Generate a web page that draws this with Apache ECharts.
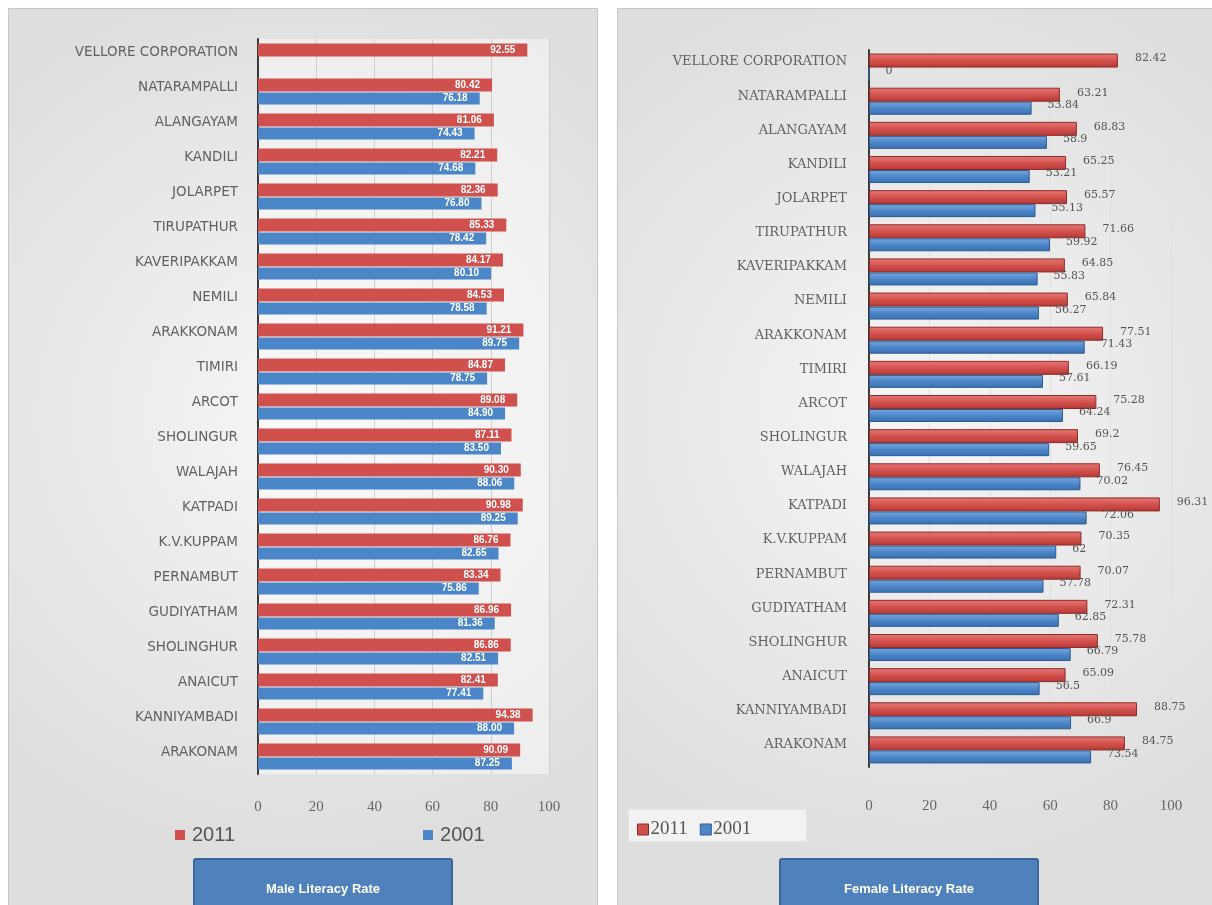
<!DOCTYPE html>
<html>
<head>
<meta charset="utf-8">
<script src="https://cdn.jsdelivr.net/npm/echarts@6/dist/echarts.min.js"></script>
<style>
  html, body { margin: 0; padding: 0; background: #ffffff; }
  #chart { width: 1212px; height: 905px; }
</style>
</head>
<body>
<div id="chart"></div>
<script>
// Blocks of Vellore district, top to bottom
const categories = [
  'VELLORE CORPORATION', 'NATARAMPALLI', 'ALANGAYAM', 'KANDILI', 'JOLARPET',
  'TIRUPATHUR', 'KAVERIPAKKAM', 'NEMILI', 'ARAKKONAM', 'TIMIRI', 'ARCOT',
  'SHOLINGUR', 'WALAJAH', 'KATPADI', 'K.V.KUPPAM', 'PERNAMBUT', 'GUDIYATHAM',
  'SHOLINGHUR', 'ANAICUT', 'KANNIYAMBADI', 'ARAKONAM'
];

// Male literacy rate (%)
const male2011 = [92.55, 80.42, 81.06, 82.21, 82.36, 85.33, 84.17, 84.53, 91.21, 84.87, 89.08,
                  87.11, 90.3, 90.98, 86.76, 83.34, 86.96, 86.86, 82.41, 94.38, 90.09];
const male2001 = ['-', 76.18, 74.43, 74.68, 76.8, 78.42, 80.1, 78.58, 89.75, 78.75, 84.9,
                  83.5, 88.06, 89.25, 82.65, 75.86, 81.36, 82.51, 77.41, 88.0, 87.25];

// Female literacy rate (%)
const female2011 = [82.42, 63.21, 68.83, 65.25, 65.57, 71.66, 64.85, 65.84, 77.51, 66.19, 75.28,
                    69.2, 76.45, 96.31, 70.35, 70.07, 72.31, 75.78, 65.09, 88.75, 84.75];
const female2001 = [0, 53.84, 58.9, 53.21, 55.13, 59.92, 55.83, 56.27, 71.43, 57.61, 64.24,
                    59.65, 70.02, 72.06, 62, 57.78, 62.85, 66.79, 56.5, 66.9, 73.54];

const xTicks = [0, 20, 40, 60, 80, 100];
const seriesNames = ['2011', '2001'];
const chartTitles = ['Male Literacy Rate', 'Female Literacy Rate'];

const RED = '#d0504d';
const BLUE = '#4a86c8';

function vGrad(top, mid, bottom) {
  return new echarts.graphic.LinearGradient(0, 0, 0, 1, [
    { offset: 0, color: top }, { offset: 0.5, color: mid }, { offset: 1, color: bottom }
  ]);
}

const chart = echarts.init(document.getElementById('chart'), null, { renderer: 'canvas' });

const panelFill = new echarts.graphic.RadialGradient(0.5, 0.45, 0.75, [
  { offset: 0, color: '#f6f6f6' }, { offset: 1, color: '#dedede' }
]);

function titleBox(x, text) {
  return {
    type: 'group', left: x, top: 858, z: 5,
    children: [
      { type: 'rect', shape: { x: 0, y: 0, width: 258, height: 60, r: 2 },
        style: { fill: '#4f81bd', stroke: '#3b6699', lineWidth: 2 } },
      { type: 'text', style: { x: 129, y: 30, text: text, fill: '#ffffff',
        font: 'bold 13px "Liberation Sans", Arial, sans-serif', textAlign: 'center', textVerticalAlign: 'middle' } }
    ]
  };
}

const catLabelBase = { color: '#616161', interval: 0, verticalAlign: 'bottom' };

const option = {
  animation: false,
  graphic: [
    { type: 'rect', left: 8, top: 8, z: -10, shape: { width: 589, height: 910 },
      style: { fill: panelFill, stroke: '#c6c6c6', lineWidth: 1 } },
    { type: 'rect', left: 617, top: 8, z: -10, shape: { width: 600, height: 910 },
      style: { fill: panelFill, stroke: '#c6c6c6', lineWidth: 1 } },
    { type: 'rect', left: 628, top: 809, z: -5, shape: { width: 178, height: 32 },
      style: { fill: '#f2f2f2', stroke: '#e4e4e4' } },
    titleBox(193, chartTitles[0]),
    titleBox(779, chartTitles[1])
  ],
  legend: [
    { left: 170, top: 820, itemGap: 188, itemWidth: 10, itemHeight: 10, icon: 'rect',
      data: seriesNames.map((n, i) => ({ name: n, itemStyle: { color: i === 0 ? RED : BLUE, borderWidth: 0 } })),
      textStyle: { fontSize: 20, color: '#555', fontFamily: '"Liberation Sans", Arial, sans-serif', padding: [0, 0, 0, 2] } },
    { left: 632, top: 815, itemGap: 12, itemWidth: 11, itemHeight: 11, icon: 'rect',
      data: seriesNames.map((n, i) => ({ name: n, itemStyle: { color: i === 0 ? RED : BLUE, borderColor: i === 0 ? '#8e2b29' : '#2c5a92', borderWidth: 1 } })),
      textStyle: { fontSize: 19, color: '#555', fontFamily: '"Liberation Serif", serif', padding: [0, 0, 0, -3] } }
  ],
  grid: [
    { left: 258, right: 663, top: 39, bottom: 905 - 774, show: true, backgroundColor: 'rgba(250,250,250,0.55)', borderWidth: 0 },
    { left: 869, right: 41, top: 50, bottom: 905 - 767, show: false }
  ],
  xAxis: [
    { gridIndex: 0, type: 'value', min: 0, max: 100, interval: 20,
      axisLine: { show: false }, axisTick: { show: false },
      splitLine: { lineStyle: { color: '#cfcfcf' } },
      axisLabel: { margin: 26, fontSize: 15, color: '#666', fontFamily: '"Liberation Serif", serif',
        formatter: v => (xTicks.includes(v) ? String(v) : '') } },
    { gridIndex: 1, type: 'value', min: 0, max: 100, interval: 20,
      axisLine: { show: false }, axisTick: { show: false },
      splitLine: { lineStyle: { color: '#e0e0e0' } },
      axisLabel: { margin: 32, fontSize: 15, color: '#666', fontFamily: '"Liberation Serif", serif',
        formatter: v => (xTicks.includes(v) ? String(v) : '') } }
  ],
  yAxis: [
    { gridIndex: 0, type: 'category', data: categories, inverse: true,
      axisLine: { lineStyle: { color: '#3a3a3a', width: 2 } }, axisTick: { show: false },
      axisLabel: Object.assign({}, catLabelBase, { margin: 20, fontSize: 13.5, lineHeight: 8, fontFamily: '"DejaVu Sans", sans-serif' }) },
    { gridIndex: 1, type: 'category', data: categories, inverse: true,
      axisLine: { lineStyle: { color: '#3a3a3a', width: 2 } }, axisTick: { show: false },
      axisLabel: Object.assign({}, catLabelBase, { margin: 22, fontSize: 13, lineHeight: 10, fontFamily: '"DejaVu Serif", serif' }) }
  ],
  series: [
    { name: seriesNames[0], type: 'bar', xAxisIndex: 0, yAxisIndex: 0, data: male2011,
      barWidth: 13, barGap: '8%', itemStyle: { color: RED },
      label: { show: true, position: 'insideRight', distance: 12, color: '#ffffff', fontSize: 10,
        fontWeight: 'bold', fontFamily: '"Liberation Sans", Arial, sans-serif',
        formatter: p => Number(p.value).toFixed(2) } },
    { name: seriesNames[1], type: 'bar', xAxisIndex: 0, yAxisIndex: 0, data: male2001,
      barWidth: 12, itemStyle: { color: BLUE },
      label: { show: true, position: 'insideRight', distance: 12, color: '#ffffff', fontSize: 10,
        fontWeight: 'bold', fontFamily: '"Liberation Sans", Arial, sans-serif',
        formatter: p => Number(p.value).toFixed(2) } },
    { name: seriesNames[0], type: 'bar', xAxisIndex: 1, yAxisIndex: 1, data: female2011,
      barWidth: 14, barGap: '0%',
      itemStyle: { color: vGrad('#e57a77', '#d4524e', '#b43834'), borderColor: '#8e2b29', borderWidth: 1 },
      label: { show: true, position: 'right', distance: 17, offset: [0, -2], color: '#555', fontSize: 11,
        fontFamily: '"DejaVu Serif", serif', formatter: p => String(p.value) } },
    { name: seriesNames[1], type: 'bar', xAxisIndex: 1, yAxisIndex: 1, data: female2001,
      barWidth: 13,
      itemStyle: { color: vGrad('#79a7dc', '#4d87c9', '#3a6fb0'), borderColor: '#2c5a92', borderWidth: 1 },
      label: { show: true, position: 'right', distance: 16, offset: [0, -3], color: '#555', fontSize: 11,
        fontFamily: '"DejaVu Serif", serif', formatter: p => String(p.value) } }
  ]
};

chart.setOption(option);
</script>
</body>
</html>
